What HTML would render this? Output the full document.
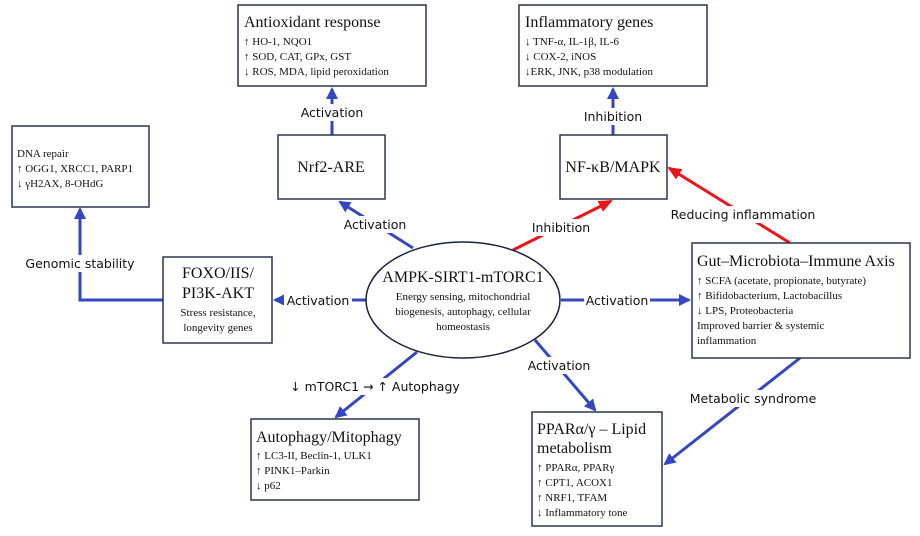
<!DOCTYPE html>
<html><head><meta charset="utf-8"><style>
body{margin:0;background:#fff}
svg text{font-family:"Liberation Serif",serif;fill:#111}
.l{font-family:"DejaVu Sans","Liberation Sans",sans-serif;font-size:12.5px;text-anchor:middle}
.b{fill:#fff;stroke:#2a3550;stroke-width:1.5}
</style></head><body>
<svg width="920" height="531" viewBox="0 0 920 531" xmlns="http://www.w3.org/2000/svg">
<defs>
<marker id="ab" markerWidth="12" markerHeight="12" refX="10" refY="6" orient="auto" markerUnits="userSpaceOnUse"><path d="M0,0 L12,6 L0,12 z" fill="#3447c0"/></marker>
<marker id="ar" markerWidth="14" markerHeight="12" refX="12" refY="6" orient="auto" markerUnits="userSpaceOnUse"><path d="M0,0 L14,6 L0,12 z" fill="#e8161b"/></marker>
</defs>
<g stroke="#3447c0" stroke-width="3" fill="none" marker-end="url(#ab)">
<line x1="413" y1="248" x2="340" y2="202"/>
<line x1="332" y1="135" x2="332" y2="89"/>
<line x1="613" y1="135" x2="613" y2="89"/>
<polyline points="163,300 80,300 80,209"/>
<line x1="366" y1="300" x2="275" y2="300"/>
<line x1="561" y1="300" x2="689" y2="300"/>
<line x1="417" y1="352" x2="336" y2="417"/>
<line x1="535" y1="340" x2="595" y2="410"/>
<line x1="800" y1="358" x2="665" y2="464"/>
</g>
<g stroke="#e8161b" stroke-width="3" fill="none" marker-end="url(#ar)">
<line x1="513" y1="250" x2="611" y2="201"/>
<line x1="790" y1="243" x2="669" y2="168"/>
</g>
<rect class="b" x="238" y="5" width="188" height="81"/>
<text x="244" y="27" font-size="16">Antioxidant response</text>
<text x="244" y="45" font-size="11">↑ HO-1, NQO1</text>
<text x="244" y="60" font-size="11">↑ SOD, CAT, GPx, GST</text>
<text x="244" y="75" font-size="11">↓ ROS, MDA, lipid peroxidation</text>
<rect class="b" x="519" y="5" width="188" height="81"/>
<text x="525" y="27" font-size="16">Inflammatory genes</text>
<text x="525" y="45" font-size="11">↓ TNF-α, IL-1β, IL-6</text>
<text x="525" y="60" font-size="11">↓ COX-2, iNOS</text>
<text x="525" y="75" font-size="11">↓ERK, JNK, p38 modulation</text>
<rect class="b" x="12" y="126" width="137" height="81"/>
<text x="17" y="157" font-size="11">DNA repair</text>
<text x="17" y="172" font-size="11">↑ OGG1, XRCC1, PARP1</text>
<text x="17" y="187" font-size="11">↓ γH2AX, 8-OHdG</text>
<rect class="b" x="278" y="135" width="107" height="64"/>
<text x="331" y="172" font-size="16" text-anchor="middle">Nrf2-ARE</text>
<rect class="b" x="560" y="135" width="107" height="64"/>
<text x="613" y="172" font-size="16" text-anchor="middle">NF-κB/MAPK</text>
<rect class="b" x="163" y="257" width="109" height="86"/>
<text x="218" y="278" font-size="16" text-anchor="middle">FOXO/IIS/</text>
<text x="218" y="298" font-size="16" text-anchor="middle">PI3K-AKT</text>
<text x="218" y="316" font-size="11" text-anchor="middle">Stress resistance,</text>
<text x="218" y="331" font-size="11" text-anchor="middle">longevity genes</text>
<ellipse cx="463" cy="300" rx="97" ry="58" fill="#fff" stroke="#1a2240" stroke-width="1.5"/>
<text x="463" y="282" font-size="16" text-anchor="middle">AMPK-SIRT1-mTORC1</text>
<text x="463" y="300" font-size="11" text-anchor="middle">Energy sensing, mitochondrial</text>
<text x="463" y="315" font-size="11" text-anchor="middle">biogenesis, autophagy, cellular</text>
<text x="463" y="330" font-size="11" text-anchor="middle">homeostasis</text>
<rect class="b" x="692" y="243" width="218" height="115"/>
<text x="697" y="266" font-size="16">Gut–Microbiota–Immune Axis</text>
<text x="697" y="284" font-size="11">↑ SCFA (acetate, propionate, butyrate)</text>
<text x="697" y="299" font-size="11">↑ Bifidobacterium, Lactobacillus</text>
<text x="697" y="314" font-size="11">↓ LPS, Proteobacteria</text>
<text x="697" y="329" font-size="11">Improved barrier &amp; systemic</text>
<text x="697" y="344" font-size="11">inflammation</text>
<rect class="b" x="251" y="419" width="168" height="81"/>
<text x="256" y="442" font-size="16">Autophagy/Mitophagy</text>
<text x="256" y="459" font-size="11">↑ LC3-II, Beclin-1, ULK1</text>
<text x="256" y="474" font-size="11">↑ PINK1–Parkin</text>
<text x="256" y="489" font-size="11">↓ p62</text>
<rect class="b" x="532" y="412" width="130" height="114"/>
<text x="537" y="434" font-size="16">PPARα/γ – Lipid</text>
<text x="537" y="453" font-size="16">metabolism</text>
<text x="537" y="471" font-size="11">↑ PPARα, PPARγ</text>
<text x="537" y="486" font-size="11">↑ CPT1, ACOX1</text>
<text x="537" y="501" font-size="11">↑ NRF1, TFAM</text>
<text x="537" y="516" font-size="11">↓ Inflammatory tone</text>
<g>
<rect x="340" y="216" width="70" height="17" fill="#fff"/><text class="l" x="375" y="229">Activation</text>
<rect x="297" y="104" width="70" height="17" fill="#fff"/><text class="l" x="332" y="117">Activation</text>
<rect x="582" y="108" width="62" height="17" fill="#fff"/><text class="l" x="613" y="121">Inhibition</text>
<rect x="530" y="219" width="62" height="17" fill="#fff"/><text class="l" x="561" y="232">Inhibition</text>
<rect x="673" y="206" width="140" height="17" fill="#fff"/><text class="l" x="743" y="219">Reducing inflammation</text>
<rect x="24" y="255" width="112" height="17" fill="#fff"/><text class="l" x="80" y="268">Genomic stability</text>
<rect x="284" y="292" width="68" height="17" fill="#fff"/><text class="l" x="318" y="305">Activation</text>
<rect x="584" y="292" width="66" height="17" fill="#fff"/><text class="l" x="617" y="305">Activation</text>
<rect x="280" y="378" width="190" height="17" fill="#fff"/><text class="l" x="375" y="391">↓ mTORC1 → ↑ Autophagy</text>
<rect x="520" y="357" width="78" height="17" fill="#fff"/><text class="l" x="559" y="370">Activation</text>
<rect x="688" y="390" width="130" height="17" fill="#fff"/><text class="l" x="753" y="403">Metabolic syndrome</text>
</g>
</svg>
</body></html>
